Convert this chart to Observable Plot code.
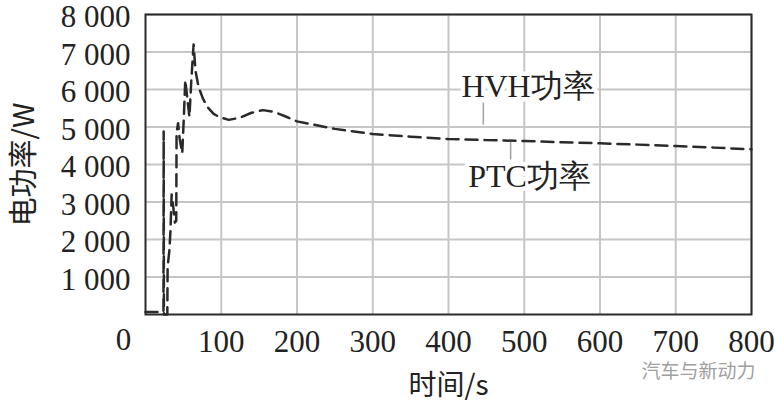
<!DOCTYPE html>
<html>
<head>
<meta charset="utf-8">
<script src="https://cdn.jsdelivr.net/npm/d3@7"></script>
<script src="https://cdn.jsdelivr.net/npm/@observablehq/plot@0.6"></script>
<style>
  html, body { margin: 0; padding: 0; background: #fff; }
</style>
</head>
<body>
<div id="chart"></div>
<script>
// ---- data ----
const times = [0, 20, 23.7, 24, 24.3, 28.8, 29.2, 31.5, 33, 34.5, 36.5, 38.8, 40.6, 41, 43, 45, 48.5, 50.5, 52.5, 55, 58, 60.5, 63.5, 66, 70, 76, 82, 90, 97, 110, 125, 140, 155, 170, 185, 200, 250, 300, 350, 400, 450, 500, 550, 600, 650, 700, 750, 800];
const power = [70, 70, 70, 4880, 0, 0, 1270, 1700, 2250, 3200, 2900, 2450, 2500, 4840, 5100, 4700, 4300, 5200, 6250, 5800, 5270, 6250, 7200, 6500, 6070, 5750, 5530, 5350, 5270, 5190, 5250, 5380, 5450, 5400, 5280, 5150, 4950, 4813, 4740, 4680, 4650, 4627, 4595, 4565, 4530, 4493, 4450, 4405];

const xTicks = [100, 200, 300, 400, 500, 600, 700, 800];
const yTicks = [1000, 2000, 3000, 4000, 5000, 6000, 7000, 8000];

const labelText = ["HVH功率", "PTC功率"];
const labelTime = [505, 507];
const labelPower = [6070, 3670];

const leaderTime = [446, 482];
const leaderFrom = [5050, 4120];
const leaderTo = [5640, 4600];

const xTitle = "时间/s";
const yTitle = "电功率/W";
const watermark = "汽车与新动力";

// ---- build tables ----
const curve = times.map((t, i) => ({t, p: power[i]}));
const labels = labelText.map((s, i) => ({s, t: labelTime[i], p: labelPower[i]}));
const leaders = leaderTime.map((t, i) => ({t, p1: leaderFrom[i], p2: leaderTo[i]}));

const serif = "Liberation Serif";
const cjk = "Noto Sans CJK SC";

const chart = Plot.plot({
  width: 775,
  height: 403,
  marginLeft: 145,
  marginRight: 24,
  marginTop: 14,
  marginBottom: 89,
  style: {fontFamily: serif, fontSize: "31px", color: "#222", background: "#fff"},
  x: {domain: [0, 800], label: null},
  y: {domain: [0, 8000], label: null},
  marks: [
    Plot.gridX(xTicks, {stroke: "#c6c6c6", strokeOpacity: 1, strokeWidth: 2}),
    Plot.gridY(yTicks, {stroke: "#c6c6c6", strokeOpacity: 1, strokeWidth: 2}),
    Plot.axisX(xTicks, {tickSize: 0, tickPadding: 15, tickFormat: d => String(d), fontSize: 31, fontFamily: serif, fontVariant: "normal", fill: "#222"}),
    Plot.axisY(yTicks, {tickSize: 0, tickPadding: 15, dy: 3, tickFormat: d => d3.format(",")(d).replace(",", " "), fontSize: 31, fontFamily: serif, fontVariant: "normal", fill: "#222"}),
    Plot.text([{t: 0, p: 0}], {x: "t", y: "p", text: () => "0", dx: -22, dy: 26, fontSize: 31, fontFamily: serif, fill: "#222"}),
    Plot.ruleX(leaders, {x: "t", y1: "p1", y2: "p2", stroke: "#a0a0a0", strokeWidth: 1.5}),
    Plot.text(labels, {x: "t", y: "p", text: "s", fontSize: 32, fill: "#222", stroke: "#fff", strokeWidth: 9, fontFamily: serif}),
    Plot.line(curve, {x: "t", y: "p", stroke: "#2a2a2a", strokeWidth: 2.5, strokeDasharray: "12,7", curve: "linear"}),
    Plot.frame({stroke: "#2a2a2a", strokeWidth: 2}),
    Plot.text([yTitle], {frameAnchor: "left", text: d => d, rotate: -90, textAnchor: "middle", lineAnchor: "middle", dx: -121, fontSize: 29, fontFamily: cjk, fill: "#222"}),
    Plot.text([xTitle], {frameAnchor: "bottom", text: d => d, textAnchor: "middle", lineAnchor: "middle", dx: 0, dy: 72, fontSize: 28, fontFamily: cjk, fill: "#222"}),
    Plot.text([watermark], {frameAnchor: "bottom-right", text: d => d, textAnchor: "end", lineAnchor: "middle", dx: 4, dy: 57, fontSize: 19, fontFamily: cjk, fill: "#a0a0a0"})
  ]
});
document.getElementById("chart").appendChild(chart);
</script>
</body>
</html>
